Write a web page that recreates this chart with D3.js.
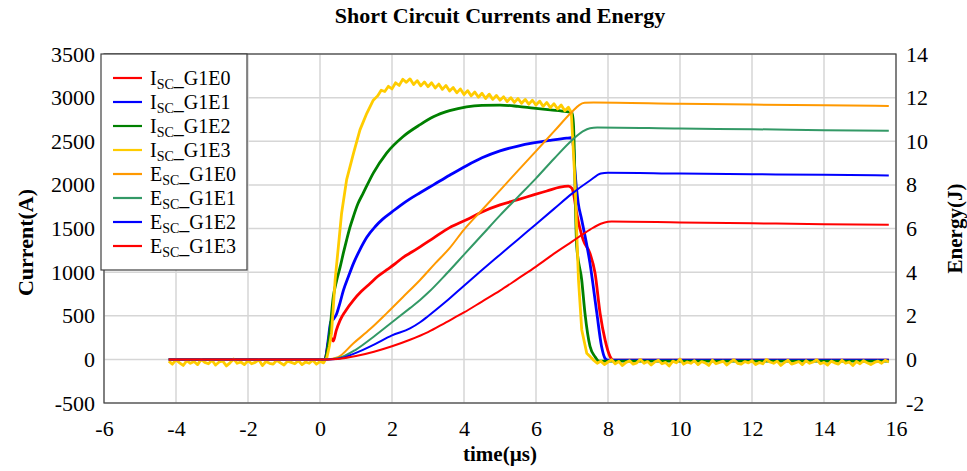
<!DOCTYPE html>
<html><head><meta charset="utf-8">
<script src="https://cdn.jsdelivr.net/npm/d3@7"></script>
<style>
html,body{margin:0;padding:0;background:#fff;}
svg text{font-family:"Liberation Serif","Times New Roman",serif;fill:#000;}
</style></head>
<body><svg id="chart" width="967" height="471"></svg>
<script>
// ---------- tick labels ----------
const xTicks = [-6,-4,-2,0,2,4,6,8,10,12,14,16];
const iTicks = [-500,0,500,1000,1500,2000,2500,3000,3500];
const eTicks = [-2,0,2,4,6,8,10,12,14];

// ---------- legend ----------
const legendNames = ["I|SC|_G1E0","I|SC|_G1E1","I|SC|_G1E2","I|SC|_G1E3","E|SC|_G1E0","E|SC|_G1E1","E|SC|_G1E2","E|SC|_G1E3"];
const legendColors = ["#ff0000","#0000ff","#008000","#ffcc00","#ff9900","#339966","#0000ff","#ff0000"];

// ---------- currents (A) vs time (µs) ----------
const iE0T = [-4.2,0.14,0.2,0.27,0.32,0.37,0.45,0.56,0.7,0.93,1.15,1.39,1.6,1.85,2.1,2.31,2.55,2.78,3.15,3.6,4.07,4.5,5.0,5.5,5.93,6.3,6.67,6.9,7.0,7.04,7.13,7.31,7.5,7.64,7.78,7.92,8.06,8.15,15.8];
const iE0  = [0,0,120,260,240,210,330,450,550,680,780,870,950,1025,1100,1170,1230,1290,1390,1510,1600,1690,1770,1830,1885,1930,1975,1985,1960,1905,1675,1370,1215,990,530,220,30,-10,-10];

const iE1T = [-4.2,0.14,0.22,0.3,0.38,0.46,0.55,0.65,0.8,0.93,1.1,1.3,1.53,1.75,2.0,2.22,2.5,2.78,3.15,3.6,4.07,4.5,5.0,5.5,5.93,6.4,6.85,6.98,7.04,7.08,7.17,7.27,7.5,7.69,7.82,7.92,8.0,15.8];
const iE1  = [0,0,200,430,465,520,640,790,960,1100,1250,1400,1520,1610,1690,1760,1840,1910,2000,2110,2220,2310,2390,2445,2480,2510,2535,2540,2440,2170,1800,1600,1100,530,150,10,-10,-10];

const iE2T = [-4.2,0.14,0.2,0.28,0.37,0.46,0.56,0.65,0.74,0.83,0.93,1.05,1.2,1.48,1.85,2.31,2.78,3.15,3.6,4.07,4.5,5.0,5.5,5.93,6.4,6.85,7.0,7.04,7.13,7.27,7.36,7.5,7.64,7.75,15.8];
const iE2  = [0,0,100,350,720,900,1060,1220,1370,1510,1640,1780,1905,2135,2365,2555,2690,2780,2850,2895,2912,2915,2900,2880,2860,2840,2830,2700,1300,910,530,150,30,-20,-20];

const iE3PreNoise = [-20,-55,-5,-40,-70,-15,-45,-25,-60,0,
  -35,-50,-10,-65,-30,-20,-75,-40,5,-45,
  -30,-60,-15,-50,-35,-5,-70,-25,-45,-55,
  -10,-40,-65,-20,-35,-50,-15,-60,-30,-45,
  -10,-55,-25,-40];           // sampled every 0.1 µs from -4.2 µs
const iE3T = [0.14,0.19,0.26,0.32,0.37,0.42,0.51,0.6,0.74,0.93,1.11,1.3,1.48,
  1.6,1.7,1.8,1.9,2.0,2.1,2.2,2.3,2.4,2.5,2.6,2.7,2.8,2.9,3.0,3.1,3.2,3.3,3.4,3.5,3.6,3.7,3.8,3.9,
  4.0,4.1,4.2,4.3,4.4,4.5,4.6,4.7,4.8,4.9,5.0,5.1,5.2,5.3,5.4,5.5,5.6,5.7,5.8,5.9,
  6.0,6.1,6.2,6.3,6.4,6.5,6.6,6.7,6.8,6.9,6.98,7.08,7.18,7.27,7.41,7.55];
const iE3  = [-10,20,150,300,600,910,1290,1675,2060,2360,2630,2820,2970,
  3020,3085,3070,3130,3100,3170,3140,3210,3175,3215,3150,3195,3135,3180,3125,3170,3110,3155,3095,3140,3075,3115,3055,3100,
  3035,3080,3020,3065,3005,3050,2990,3040,2980,3025,2970,3010,2955,3000,2945,2990,2935,2980,2925,2970,
  2915,2960,2900,2945,2885,2930,2870,2915,2850,2890,2830,2060,910,340,70,12];
const iE3PostNoise = [-10,-45,-20,-60,-30,-5,-50,-25,-70,-35,
  -15,-55,-40,0,-45,-25,-65,-30,-10,-50,
  -35,-75,-20,-40,5,-55,-30,-45,-15,-60,
  -25,-40,-70,-10,-50,-35,-20,-65,-30,-5,
  -45,-55,-25,-40,-15,-60,-35,-50,0,-30,
  -45,-20,-70,-35,-10,-55,-40,-25,-60,-15,
  -45,-30,-5,-50,-35,-65,-20,-40,-55,-10,
  -45,-30,-70,-25,-50,-15,-40,-60,-35,-20,
  -45,-10,-30];               // sampled every 0.1 µs from 7.6 µs

// ---------- energies (J) vs time (µs) ----------
const eE0T = [-4.2,0.2,0.5,0.93,1.4,1.85,2.3,2.78,3.2,3.6,4.0,4.5,5.0,5.5,6.0,6.5,7.0,7.2,7.35,7.6,10,12,14,15.8];
const eE0  = [0,0,0.1,0.74,1.4,2.11,2.85,3.64,4.4,5.1,5.95,6.85,7.75,8.65,9.55,10.45,11.35,11.66,11.76,11.78,11.72,11.68,11.65,11.62];

const eE1T = [-4.2,0.2,0.5,1.0,1.5,2.0,2.5,2.78,3.0,3.5,4.0,4.5,5.0,5.5,6.0,6.5,7.0,7.3,7.5,7.7,10,12,14,15.8];
const eE1  = [0,0,0.05,0.45,1.05,1.7,2.35,2.72,3.05,3.9,4.8,5.7,6.6,7.45,8.3,9.2,10.05,10.45,10.6,10.63,10.58,10.55,10.51,10.48];

const eE2T = [-4.2,0.2,0.5,1.0,1.5,2.0,2.5,2.78,3.0,3.5,4.0,4.5,5.0,5.5,6.0,6.5,7.0,7.5,7.8,8.0,10,12,14,15.8];
const eE2  = [0,0,0.03,0.3,0.68,1.1,1.42,1.7,1.98,2.65,3.38,4.1,4.8,5.5,6.2,6.9,7.6,8.2,8.52,8.56,8.52,8.49,8.46,8.43];

const eE3T = [-4.2,0.2,0.5,1.0,1.5,2.0,2.5,3.0,3.5,4.0,4.5,5.0,5.5,6.0,6.5,7.0,7.5,7.8,8.0,8.1,10,12,14,15.8];
const eE3  = [0,0,0.02,0.15,0.35,0.6,0.9,1.25,1.7,2.15,2.65,3.15,3.7,4.25,4.85,5.4,5.95,6.22,6.31,6.32,6.28,6.24,6.2,6.17];

// ---------- build ----------
const zip = (ts, vs) => ts.map((t, i) => ({t: t, v: vs[i]}));
const noiseSeg = (t0, vs) => vs.map((v, i) => ({t: +(t0 + i * 0.1).toFixed(2), v: v}));
const currents = [
  {pts: zip(iE0T, iE0), color: legendColors[0], smooth: true},
  {pts: zip(iE1T, iE1), color: legendColors[1], smooth: true},
  {pts: zip(iE2T, iE2), color: legendColors[2], smooth: true},
  {pts: noiseSeg(-4.2, iE3PreNoise).concat(zip(iE3T, iE3), noiseSeg(7.6, iE3PostNoise)), color: legendColors[3], smooth: false}
];
const energies = [
  {pts: zip(eE0T, eE0), color: legendColors[4]},
  {pts: zip(eE1T, eE1), color: legendColors[5]},
  {pts: zip(eE2T, eE2), color: legendColors[6]},
  {pts: zip(eE3T, eE3), color: legendColors[7]}
];

const L = 104, R = 896, T = 54, B = 403;
const SERIF = "Liberation Serif";
const svg = d3.select("#chart");
const x = d3.scaleLinear().domain([-6, 16]).range([L, R]);
const yI = d3.scaleLinear().domain([-500, 3500]).range([B, T]);
const yE = d3.scaleLinear().domain([-2, 14]).range([B, T]);

// gridlines
const grid = svg.append("g");
grid.selectAll("line.v").data(xTicks).join("line")
  .attr("x1", d => x(d)).attr("x2", d => x(d)).attr("y1", T).attr("y2", B)
  .attr("stroke", "#d6d6d6").attr("stroke-width", 1.5);
grid.selectAll("line.h").data(iTicks).join("line")
  .attr("x1", L).attr("x2", R).attr("y1", d => yI(d)).attr("y2", d => yI(d))
  .attr("stroke", "#d6d6d6").attr("stroke-width", 1.5);

// axes
const fmt = d => String(d);
const ax = svg.append("g").attr("transform", `translate(0,${B})`)
  .call(d3.axisBottom(x).tickValues(xTicks).tickSize(0).tickPadding(17).tickFormat(fmt));
const ayl = svg.append("g").attr("transform", `translate(${L},0)`)
  .call(d3.axisLeft(yI).tickValues(iTicks).tickSize(0).tickPadding(9).tickFormat(fmt));
const ayr = svg.append("g").attr("transform", `translate(${R},0)`)
  .call(d3.axisRight(yE).tickValues(eTicks).tickSize(0).tickPadding(10).tickFormat(fmt));
[ax, ayl, ayr].forEach(g => {
  g.attr("font-family", SERIF).attr("font-size", 22);
  g.select(".domain").remove();
  g.selectAll("text").attr("font-family", SERIF).style("font-family", SERIF).style("font-size", "22px").attr("fill", "#000");
});

// lines
const lineIs = d3.line().curve(d3.curveMonotoneX).x(d => x(d.t)).y(d => yI(d.v));
const lineIr = d3.line().x(d => x(d.t)).y(d => yI(d.v));
const lineE = d3.line().curve(d3.curveMonotoneX).x(d => x(d.t)).y(d => yE(d.v));
svg.append("g").selectAll("path").data(currents).join("path")
  .attr("d", d => (d.smooth ? lineIs : lineIr)(d.pts)).attr("fill", "none")
  .attr("stroke", d => d.color).attr("stroke-width", 2.8).attr("stroke-linejoin", "round");
svg.append("g").selectAll("path").data(energies).join("path")
  .attr("d", d => lineE(d.pts)).attr("fill", "none")
  .attr("stroke", d => d.color).attr("stroke-width", 2).attr("stroke-linejoin", "round");

// frame
svg.append("rect").attr("x", L).attr("y", T).attr("width", R - L).attr("height", B - T)
  .attr("fill", "none").attr("stroke", "#404040").attr("stroke-width", 1.2);

// legend
const lg = svg.append("g");
lg.append("rect").attr("x", 101).attr("y", T).attr("width", 146).attr("height", 216)
  .attr("fill", "#fff").attr("stroke", "#404040").attr("stroke-width", 1.2);
legendNames.forEach((name, i) => {
  const yy = 78 + i * 24;
  const parts = name.split("|");
  lg.append("line").attr("x1", 113).attr("x2", 142).attr("y1", yy).attr("y2", yy)
    .attr("stroke", legendColors[i]).attr("stroke-width", 2.2);
  const t = lg.append("text").attr("x", 150).attr("y", yy + 7).style("font-size", "20px");
  t.append("tspan").text(parts[0]);
  t.append("tspan").attr("dy", 4).style("font-size", "14px").text(parts[1]);
  t.append("tspan").attr("dy", -4).text(parts[2]);
});

// titles
svg.append("text").attr("x", 500).attr("y", 23).attr("text-anchor", "middle")
  .style("font-size", "22px").style("font-weight", "bold").text("Short Circuit Currents and Energy");
svg.append("text").attr("x", 500).attr("y", 461).attr("text-anchor", "middle")
  .style("font-size", "21px").style("font-weight", "bold").text("time(µs)");
svg.append("text").attr("transform", `translate(33,${(T + B) / 2 + 14}) rotate(-90)`).attr("text-anchor", "middle")
  .style("font-size", "22px").style("font-weight", "bold").text("Current(A)");
svg.append("text").attr("transform", `translate(962,${(T + B) / 2}) rotate(-90)`).attr("text-anchor", "middle")
  .style("font-size", "21px").style("font-weight", "bold").text("Energy(J)");
</script></body></html>
